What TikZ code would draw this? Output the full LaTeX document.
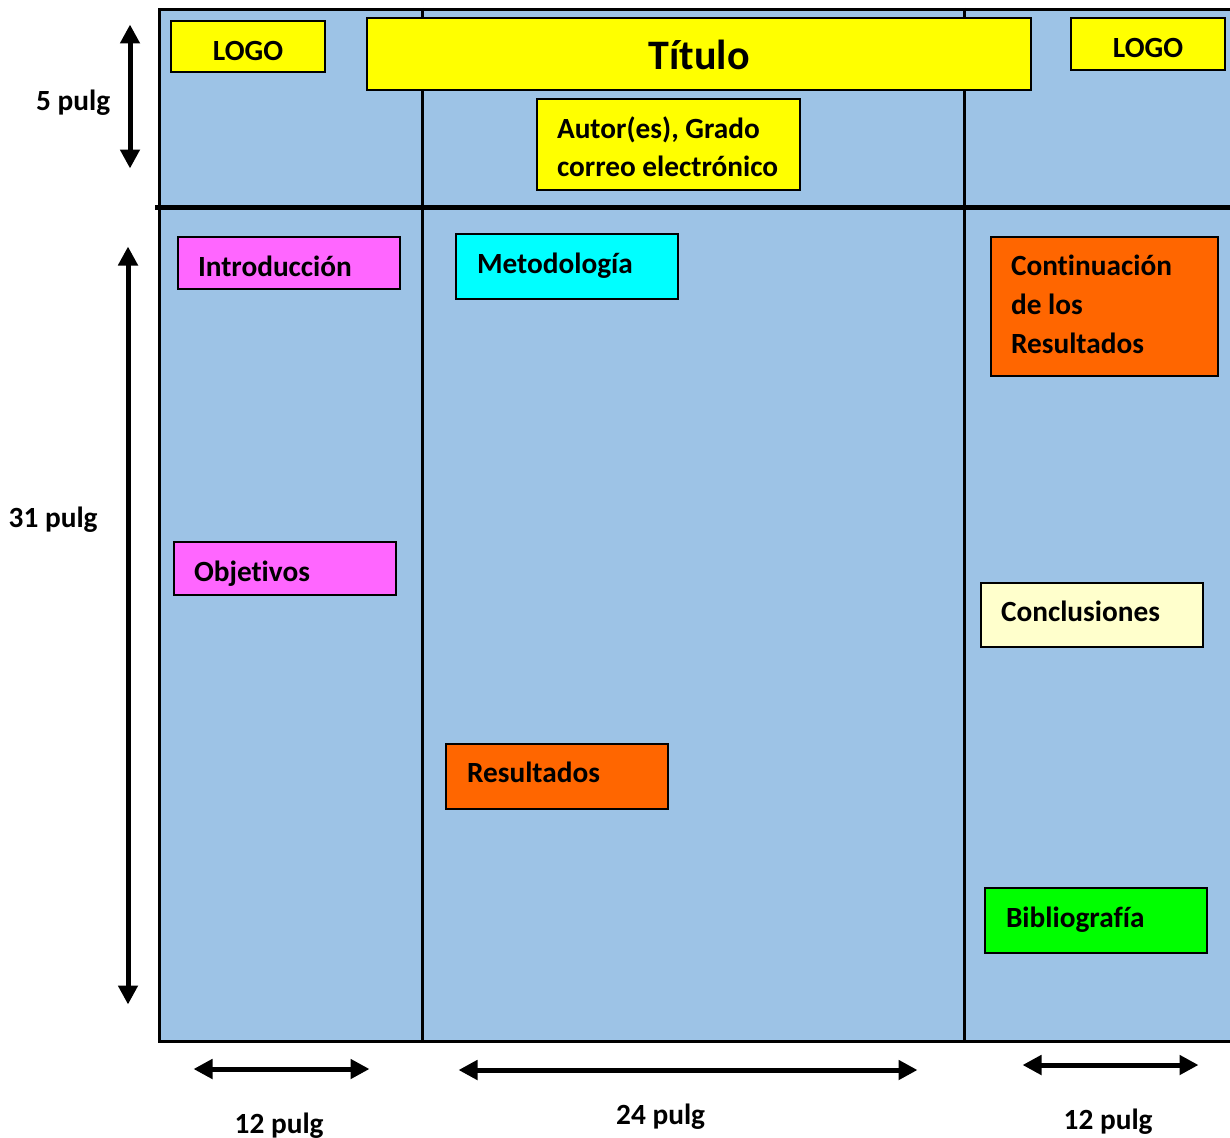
\documentclass[tikz,border=0pt]{standalone}
\usepackage{fontspec}
\setmainfont{Carlito}[BoldFont={Carlito Bold},Ligatures=NoCommon]
\usetikzlibrary{arrows.meta}
\definecolor{panel}{HTML}{9DC3E6}
\definecolor{yel}{HTML}{FFFF00}
\definecolor{mag}{HTML}{FF66FF}
\definecolor{cya}{HTML}{00FFFF}
\definecolor{ora}{HTML}{FF6600}
\definecolor{pale}{HTML}{FFFFCC}
\definecolor{gre}{HTML}{00FF00}
\tikzset{
  boxnode/.style={draw=black,line width=2pt,inner sep=0pt,outer sep=0pt,anchor=north west,font=\bfseries\fontsize{29.3}{39}\selectfont},
  rule/.style={draw=black,line width=3pt},
  heavy/.style={draw=black,line width=5pt},
  dim/.style={draw=black,line width=5pt,{Triangle[length=19pt,width=19pt]}-{Triangle[length=19pt,width=19pt]}},
  dimlabel/.style={inner sep=0pt,anchor=base west,font=\bfseries\fontsize{29.3}{34}\selectfont}
}
% name, colour, x1, y1, x2, y2, baseline offset, left indent, text
\newcommand{\pbox}[9]{%
  \node[boxnode,fill=#2,text height=#7pt,text depth=\dimexpr #6pt-#4pt-#7pt\relax] (#1) at (#3,#4)
    {\parbox[t]{\dimexpr #5pt-#3pt\relax}{\leftskip=#8pt\relax\parindent=0pt #9}};%
}
\newcommand{\cbox}[8]{%
  \node[boxnode,fill=#2,text height=#7pt,text depth=\dimexpr #6pt-#4pt-#7pt\relax] (#1) at (#3,#4)
    {\parbox[t]{\dimexpr #5pt-#3pt\relax}{\centering #8}};%
}
\begin{document}
\begin{tikzpicture}[x=1pt,y=-1pt]
\useasboundingbox (0,0) rectangle (1230,1137);
\clip (0,0) rectangle (1230,1137);
\coordinate (pnw) at (159,10);
\coordinate (pse) at (1240,1041.5);
\path[fill=panel,rule] (pnw) rectangle (pse);
\coordinate (c1t) at (422,8);
\coordinate (c1b) at (422,1041.5);
\coordinate (c2t) at (964.6,8);
\coordinate (c2b) at (964.6,1041.5);
\coordinate (hl) at (155,207.7);
\coordinate (hr) at (1240,207.7);
\draw[rule] (c1t) -- (c1b);
\draw[rule] (c2t) -- (c2b);
\draw[heavy] (hl) -- (hr);

\cbox{logoa}{yel}{171}{21}{325}{72}{39.5}{LOGO}
\cbox{logob}{yel}{1071}{18}{1225}{70}{40}{LOGO}
\node[boxnode,fill=yel,font=\bfseries\fontsize{42}{47}\selectfont,text height=52pt,text depth=20pt] (titulo) at (367,18)
  {\parbox[t]{664pt}{\centering Título}};
\pbox{autor}{yel}{537}{99}{800}{190}{39}{20}{Autor(es), Grado\\correo electrónico}
\pbox{intro}{mag}{178}{237}{400}{289}{39}{20}{Introducción}
\pbox{metod}{cya}{456}{234}{678}{299}{39.5}{21}{Metodología}
\pbox{obj}{mag}{174}{542}{396}{595}{39.5}{20}{Objetivos}
\pbox{result}{ora}{446}{744}{668}{809}{38.5}{21}{Resultados}
\pbox{contin}{ora}{991}{237}{1218}{376}{38.5}{20}{Continuación\\de los\\Resultados}
\pbox{concl}{pale}{981}{583}{1203}{647}{38.5}{20}{Conclusiones}
\pbox{biblio}{gre}{985}{888}{1207}{953}{39.5}{21}{Bibliografía}

\coordinate (a1t) at (130,24.5);
\coordinate (a1b) at (130,168.5);
\coordinate (a2t) at (128,246.5);
\coordinate (a2b) at (128,1004.5);
\coordinate (a3l) at (193.5,1069);
\coordinate (a3r) at (369.5,1069);
\coordinate (a4l) at (458.5,1070);
\coordinate (a4r) at (917.5,1070);
\coordinate (a5l) at (1022.5,1065);
\coordinate (a5r) at (1198.5,1065);
\draw[dim] (a1t) -- (a1b);
\draw[dim] (a2t) -- (a2b);
\draw[dim] (a3l) -- (a3r);
\draw[dim] (a4l) -- (a4r);
\draw[dim] (a5l) -- (a5r);

\node[dimlabel] (l5) at (36,110.5) {5 pulg};
\node[dimlabel] (l31) at (8.5,527.5) {31 pulg};
\node[dimlabel] (l12a) at (234.5,1133) {12 pulg};
\node[dimlabel] (l24) at (616,1124) {24 pulg};
\node[dimlabel] (l12b) at (1063.5,1129) {12 pulg};
\end{tikzpicture}
\end{document}
